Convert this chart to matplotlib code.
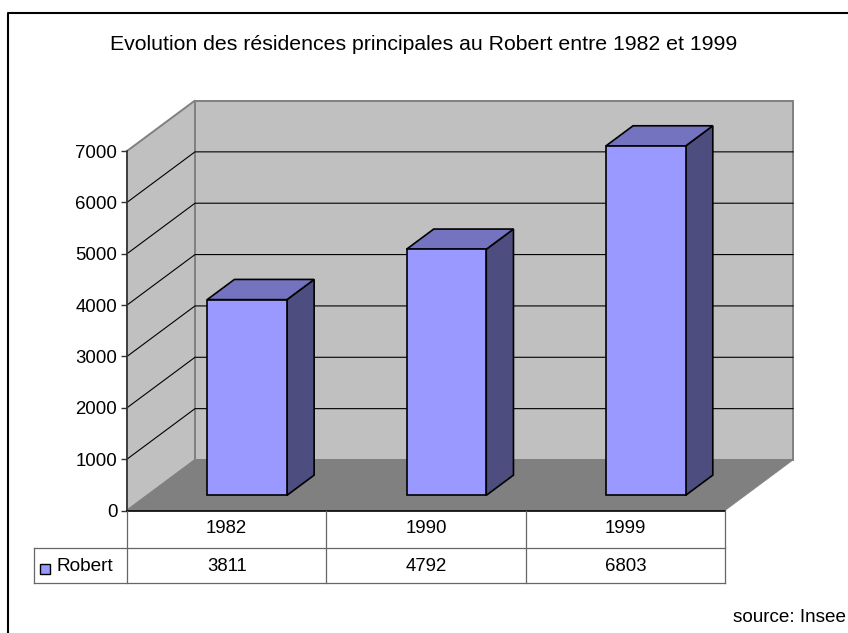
import matplotlib

matplotlib.use("Agg")

import matplotlib.pyplot as plt
from matplotlib.patches import Polygon, Rectangle

years = ["1982", "1990", "1999"]
robert = [3811, 4792, 6803]
y_ticks = [0, 1000, 2000, 3000, 4000, 5000, 6000, 7000]
title = "Evolution des résidences principales au Robert entre 1982 et 1999"
series_name = "Robert"
source = "source: Insee"

W, H = 848, 633
LEFT, RIGHT, BOTTOM, TOP = 127, 725, 510.5, 151
Y_MAX = 7000

# depth of the fake 3D box, in data units of the front plane
DEPTH_X = 68 / ((RIGHT - LEFT) / len(years))
DEPTH_Y = 50.5 / ((BOTTOM - TOP) / Y_MAX)
BAR_W = 0.4
BAR_Z0, BAR_Z1 = 0.30, 0.70

plt.rcParams["font.family"] = ["Liberation Sans", "DejaVu Sans"]
FS = 13.4

fig = plt.figure(figsize=(W / 100, H / 100), dpi=100, facecolor="white")

# overlay in pixel coordinates for frame, table and free texts
ov = fig.add_axes([0, 0, 1, 1], zorder=3)
ov.set_xlim(0, W)
ov.set_ylim(H, 0)
ov.axis("off")
ov.patch.set_alpha(0)

ax = fig.add_axes([LEFT / W, 1 - BOTTOM / H, (RIGHT - LEFT) / W, (BOTTOM - TOP) / H], zorder=2)
ax.set_xlim(0, len(years))
ax.set_ylim(0, Y_MAX)
ax.patch.set_alpha(0)
for name in ["top", "right", "bottom"]:
    ax.spines[name].set_visible(False)
ax.spines["left"].set_color("#333333")
ax.spines["left"].set_linewidth(1.2)
ax.set_xticks([])
ax.set_yticks(y_ticks)
ax.tick_params(axis="y", length=4, width=1.0, color="#333333", pad=3, labelsize=FS, labelcolor="black")


def depth(x, y, z):
    """Project a point at depth z (0 front, 1 back) on the front plane."""
    return x + z * DEPTH_X, y + z * DEPTH_Y


def poly(points, face, edge, lw, zorder):
    ax.add_patch(Polygon(points, closed=True, facecolor=face, edgecolor=edge, linewidth=lw,
                         zorder=zorder, clip_on=False, joinstyle="miter"))


n = len(years)
wall_edge = "#808080"
# back wall, side wall, floor
poly([depth(0, 0, 1), depth(n, 0, 1), depth(n, Y_MAX, 1), depth(0, Y_MAX, 1)], "#C0C0C0", wall_edge, 1.4, 1)
poly([(0, 0), depth(0, 0, 1), depth(0, Y_MAX, 1), (0, Y_MAX)], "#C0C0C0", wall_edge, 1.4, 1)
poly([(0, 0), (n, 0), depth(n, 0, 1), depth(0, 0, 1)], "#808080", "#808080", 0.5, 2)

# gridlines: diagonal on the side wall, flat on the back wall
for v in y_ticks[1:-1]:
    x1, y1 = depth(0, v, 1)
    x2, _ = depth(n, v, 1)
    ax.plot([0, x1, x2], [v, y1, y1], color="black", lw=0.8, zorder=1.5, clip_on=False)

ax.plot([0, n], [0, 0], color="black", lw=1.2, zorder=3, clip_on=False)

for i, value in enumerate(robert):
    x0 = i + 0.5 - BAR_W / 2
    x1 = x0 + BAR_W
    fl, fb = depth(x0, 0, BAR_Z0)
    fr, _ = depth(x1, 0, BAR_Z0)
    _, ft = depth(x0, value, BAR_Z0)
    bl, bb = depth(x0, 0, BAR_Z1)
    br, _ = depth(x1, 0, BAR_Z1)
    _, bt = depth(x0, value, BAR_Z1)
    poly([(fr, fb), (br, bb), (br, bt), (fr, ft)], "#4D4D80", "black", 1.2, 4)
    poly([(fl, ft), (fr, ft), (br, bt), (bl, bt)], "#7373BF", "black", 1.2, 4)
    poly([(fl, fb), (fr, fb), (fr, ft), (fl, ft)], "#9999FF", "black", 1.2, 5)

# outer chart frame, runs off the right and bottom of the picture
ov.plot([7.5, 7.5, W], [H, 12.5, 12.5], color="black", lw=1.5, clip_on=False)

ov.text(424, 44.5, title, ha="center", va="center", fontsize=15.35, color="black")
ov.text(846, 618, source, ha="right", va="center", fontsize=13.6, color="black")

# data table under the plot
line_col = "#666666"
row0, row1, row2 = 510.5, 547.5, 583
cell_w = (RIGHT - LEFT) / n
ov.plot([LEFT, LEFT], [row0, row2], color=line_col, lw=0.9)
ov.plot([34, RIGHT], [row1, row1], color=line_col, lw=0.9)
ov.plot([34, RIGHT], [row2, row2], color=line_col, lw=0.9)
ov.plot([34, 34], [row1, row2], color=line_col, lw=0.9)
for i in range(1, n + 1):
    x = LEFT + i * cell_w
    ov.plot([x, x], [row0, row2], color=line_col, lw=0.9)
for i, (year, value) in enumerate(zip(years, robert)):
    x = LEFT + (i + 0.5) * cell_w
    ov.text(x, (row0 + row1) / 2 - 0.5, year, ha="center", va="center", fontsize=FS)
    ov.text(x, (row1 + row2) / 2 + 1.5, str(value), ha="center", va="center", fontsize=FS)

ov.add_patch(Rectangle((39.5, 564), 10.5, 10, facecolor="#9999FF", edgecolor="black", linewidth=1.0))
ov.text(57, (row1 + row2) / 2 + 1.5, series_name, ha="left", va="center", fontsize=13.7)

fig.savefig("out.png", dpi=100)
plt.close(fig)
